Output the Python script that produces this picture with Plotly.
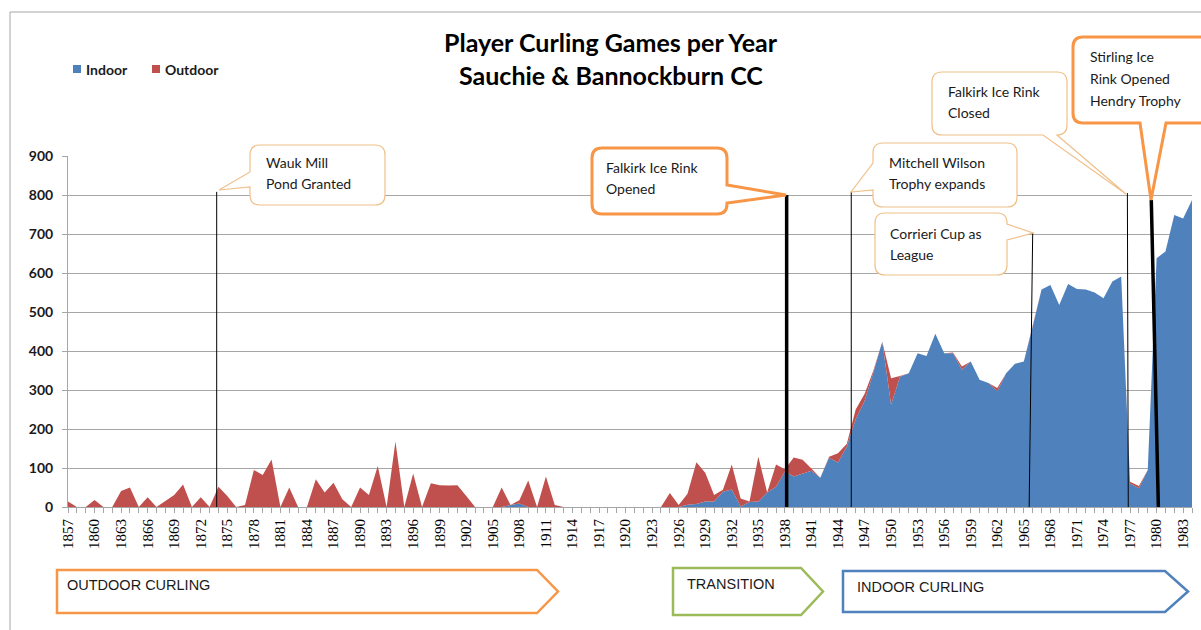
import plotly.graph_objects as go

# ---------------- data ----------------
years = list(range(1857, 1985))

indoor = [
    # 1857-1906
    0, 0, 0, 0, 0, 0, 0, 0, 0, 0,
    0, 0, 0, 0, 0, 0, 0, 0, 0, 0,
    0, 0, 0, 0, 0, 0, 0, 0, 0, 0,
    0, 0, 0, 0, 0, 0, 0, 0, 0, 0,
    0, 0, 0, 0, 0, 0, 0, 0, 0, 0,
    # 1907-1956
    5, 9, 0, 0, 0, 0, 0, 0, 0, 0,
    0, 0, 0, 0, 0, 0, 0, 0, 0, 0,
    6, 8, 14, 14, 39, 45, 1, 13, 14, 37,
    52, 91, 78, 86, 93, 75, 126, 114, 155, 225,
    272, 345, 424, 262, 334, 343, 394, 387, 444, 394,
    # 1957-1984
    394, 352, 373, 326, 318, 297, 343, 367, 373, 462,
    558, 569, 518, 572, 559, 558, 550, 535, 578, 591,
    60, 48, 95, 638, 655, 749, 740, 787,
]

outdoor = [
    # 1857-1906
    14, 0, 0, 18, 0, 0, 41, 50, 0, 25,
    0, 15, 31, 58, 0, 25, 0, 52, 28, 0,
    5, 95, 82, 122, 0, 50, 0, 0, 71, 37,
    62, 20, 0, 50, 31, 105, 0, 168, 0, 86,
    0, 61, 56, 55, 56, 28, 0, 0, 0, 50,
    # 1907-1956
    0, 8, 68, 0, 78, 5, 0, 0, 0, 0,
    0, 0, 0, 0, 0, 0, 0, 0, 36, 5,
    28, 107, 74, 17, 5, 64, 21, 1, 115, 0,
    57, 6, 49, 35, 6, 0, 3, 24, 7, 25,
    18, 5, 0, 68, 2, 0, 0, 0, 0, 0,
    # 1957-1984
    2, 8, 0, 0, 0, 8, 0, 0, 0, 0,
    0, 0, 0, 0, 0, 0, 0, 0, 0, 0,
    5, 6, 0, 0, 0, 0, 0, 0,
]

tick_years = list(range(1857, 1984, 3))
tick_labels = [str(y) for y in tick_years]
y_ticks = list(range(0, 1000, 100))

series_names = ["Indoor", "Outdoor"]
series_colors = ["#4F81BD", "#C0504D"]

title_lines = ["Player Curling Games per Year", "Sauchie & Bannockburn CC"]

# event markers: (year at top, year at bottom, top value, thick?)
event_top_year = [1873.8, 1938.2, 1945.5, 1966.0, 1976.7, 1979.4]
event_bot_year = [1873.8, 1938.2, 1945.5, 1965.6, 1976.8, 1980.2]
event_top_val = [808, 800, 808, 703, 805, 787]
event_thick = [False, True, False, False, False, True]

callout_texts = [
    ["Wauk Mill", "Pond Granted"],
    ["Falkirk Ice Rink", "Opened"],
    ["Mitchell Wilson", "Trophy expands"],
    ["Corrieri Cup as", "League"],
    ["Falkirk Ice Rink", "Closed"],
    ["Stirling Ice", "Rink Opened", "Hendry Trophy"],
]

phase_labels = ["OUTDOOR CURLING", "TRANSITION", "INDOOR CURLING"]
phase_colors = ["#F79646", "#9BBB59", "#4F81BD"]

# ---------------- layout geometry (pixels) ----------------
W, H = 1201, 630
L, R, T, B = 68, 1192, 156, 507


def px(x):
    return (x - L) / (R - L)


def py(y):
    return (B - y) / (B - T)


def P(x, y):
    return f"{px(x):.5f},{py(y):.5f}"


def bubble_path(x0, y0, x1, y1, r, side, a, b, tip):
    tx, ty = tip
    s = f"M{P(x0 + r, y0)} L{P(x1 - r, y0)} Q{P(x1, y0)} {P(x1, y0 + r)} "
    if side == "right":
        s += f"L{P(x1, a)} L{P(tx, ty)} L{P(x1, b)} "
    s += f"L{P(x1, y1 - r)} Q{P(x1, y1)} {P(x1 - r, y1)} "
    if side == "bottom":
        s += f"L{P(b, y1)} L{P(tx, ty)} L{P(a, y1)} "
    s += f"L{P(x0 + r, y1)} Q{P(x0, y1)} {P(x0, y1 - r)} "
    if side == "left":
        s += f"L{P(x0, b)} L{P(tx, ty)} L{P(x0, a)} "
    s += f"L{P(x0, y0 + r)} Q{P(x0, y0)} {P(x0 + r, y0)} Z"
    return s


fig = go.Figure()
fig.add_trace(go.Scatter(
    x=years, y=indoor, name=series_names[0], mode="lines",
    stackgroup="one", line=dict(width=0, color=series_colors[0]),
    fillcolor=series_colors[0], showlegend=False))
fig.add_trace(go.Scatter(
    x=years, y=outdoor, name=series_names[1], mode="lines",
    stackgroup="one", line=dict(width=0, color=series_colors[1]),
    fillcolor=series_colors[1], showlegend=False))

shapes = []
annotations = []

# outer frame
shapes.append(dict(type="rect", xref="paper", yref="paper",
                   x0=px(10), x1=px(1215), y0=py(12), y1=py(645),
                   line=dict(color="#A6A6A6", width=1), layer="below"))

# event lines
for yt, yb, v, thick in zip(event_top_year, event_bot_year, event_top_val, event_thick):
    shapes.append(dict(type="line", xref="x", yref="y", x0=yb, y0=0, x1=yt, y1=v,
                       line=dict(color="black", width=3.5 if thick else 1)))

# callout bubbles
bubbles = [
    dict(box=(250, 145, 385, 205), side="left", a=172, b=187, tip=(219, 190), thick=False),
    dict(box=(592, 148, 727, 214), side="right", a=185, b=203, tip=(786, 195), thick=True),
    dict(box=(873, 143, 1017, 207), side="left", a=163, b=190, tip=(851, 192), thick=False),
    dict(box=(875, 213, 1007, 275), side="right", a=224, b=240, tip=(1033, 233), thick=False),
    dict(box=(932, 72, 1067, 135), side="bottom", a=1043, b=1057, tip=(1126, 194), thick=False),
    dict(box=(1073, 37, 1210, 123), side="bottom", a=1140, b=1166, tip=(1151, 200), thick=True),
]
text_pos = [(264, 162), (604, 167), (887, 162), (888, 233), (946, 91), (1088, 57)]

for bb, lines, (tx, ty) in zip(bubbles, callout_texts, text_pos):
    x0, y0, x1, y1 = bb["box"]
    shapes.append(dict(type="path", xref="paper", yref="paper",
                       path=bubble_path(x0, y0, x1, y1, 10, bb["side"], bb["a"], bb["b"], bb["tip"]),
                       fillcolor="white",
                       line=dict(color="#F79646" if bb["thick"] else "#F0C08A",
                                 width=3 if bb["thick"] else 1.2)))
    for i, t in enumerate(lines):
        annotations.append(dict(xref="paper", yref="paper", x=px(tx), y=py(ty + i * 21.5),
                                text=t, showarrow=False, xanchor="left", yanchor="middle",
                                font=dict(family="Lato", size=14, color="#1a1a1a")))

# phase arrows
arrows = [(57, 570, 537, 558, 613), (673, 568, 801, 823, 615), (843, 571, 1165, 1188, 612)]
arrow_text_pos = [(65, 585), (685, 584), (855, 587)]
for (x0, y0, xe, xt, y1), col, lab, (tx, ty) in zip(arrows, phase_colors, phase_labels, arrow_text_pos):
    ym = (y0 + y1) / 2
    path = f"M{P(x0, y0)} L{P(xe, y0)} L{P(xt, ym)} L{P(xe, y1)} L{P(x0, y1)} Z"
    shapes.append(dict(type="path", xref="paper", yref="paper", path=path,
                       fillcolor="white", line=dict(color=col, width=2.5)))
    annotations.append(dict(xref="paper", yref="paper", x=px(tx), y=py(ty), text=lab,
                            showarrow=False, xanchor="left", yanchor="middle",
                            font=dict(family="Liberation Sans", size=14.5, color="#1a1a1a")))

# custom legend
leg_x = [73, 152]
for name, col, lx in zip(series_names, series_colors, leg_x):
    shapes.append(dict(type="rect", xref="paper", yref="paper",
                       x0=px(lx), x1=px(lx + 8), y0=py(65), y1=py(73),
                       fillcolor=col, line=dict(width=0)))
    annotations.append(dict(xref="paper", yref="paper", x=px(lx + 11), y=py(69),
                            text=f"<b>{name}</b>", showarrow=False, xanchor="left",
                            yanchor="middle",
                            font=dict(family="Lato", size=14, color="#1a1a1a")))

# title
for i, t in enumerate(title_lines):
    annotations.append(dict(xref="paper", yref="paper", x=px(611), y=py(42 + i * 33),
                            text=f"<b>{t}</b>", showarrow=False, xanchor="center",
                            yanchor="middle",
                            font=dict(family="Lato", size=25, color="black")))

fig.update_layout(
    width=W, height=H, autosize=False,
    margin=dict(l=L, r=W - R, t=T, b=H - B, pad=0),
    paper_bgcolor="white", plot_bgcolor="white",
    showlegend=False,
    shapes=shapes, annotations=annotations,
    xaxis=dict(range=[1857, 1984], tickmode="array", tickvals=tick_years,
               ticktext=tick_labels, tickangle=-90, showgrid=False,
               showline=True, linecolor="#A6A6A6", linewidth=1,
               ticks="outside", ticklen=5, tickcolor="#A6A6A6",
               tickfont=dict(family="Liberation Serif", size=15, color="black"),
               minor=dict(dtick=1, tick0=1857, ticks="outside", ticklen=5,
                          tickcolor="#A6A6A6", showgrid=False),
               zeroline=False, fixedrange=True),
    yaxis=dict(range=[0, 900], tickmode="array", tickvals=y_ticks,
               showgrid=True, gridcolor="#A6A6A6", gridwidth=1,
               showline=True, linecolor="#A6A6A6", linewidth=1,
               ticks="outside", ticklen=5, tickcolor="#A6A6A6",
               ticklabelstandoff=6,
               tickfont=dict(family="Lato", size=14, color="#1a1a1a", weight="bold"),
               zeroline=False, fixedrange=True),
)

fig.write_html("out.html")
